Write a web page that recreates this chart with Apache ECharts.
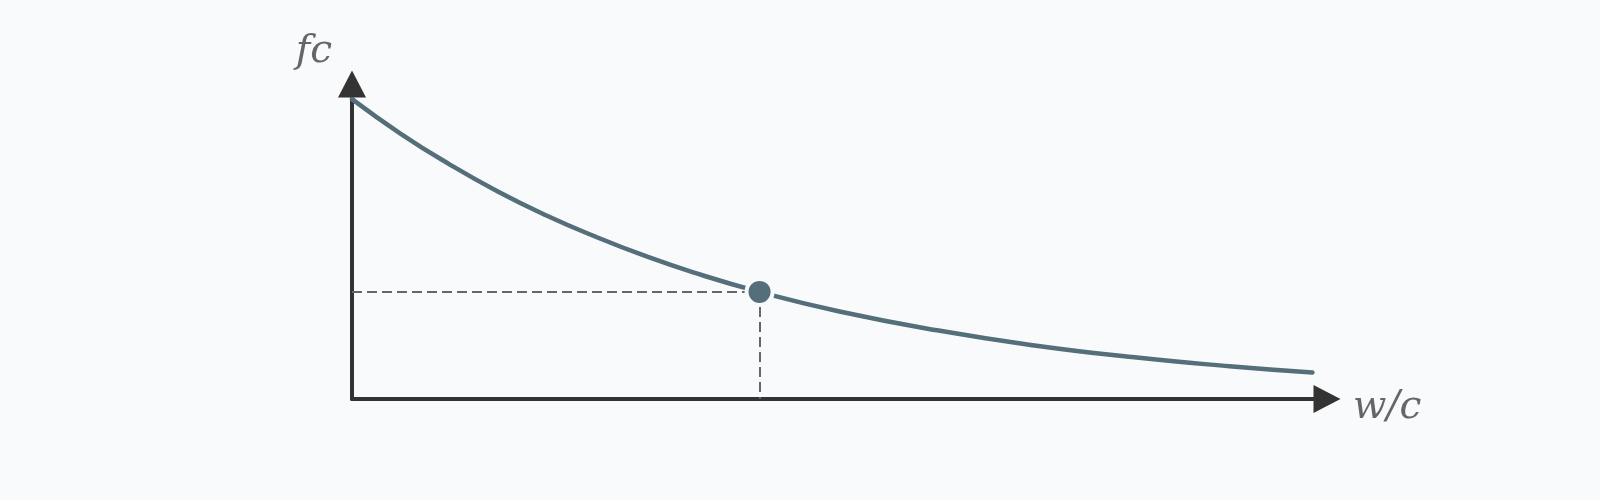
<!DOCTYPE html>
<html>
<head>
<meta charset="utf-8">
<script src="https://cdn.jsdelivr.net/npm/echarts@6/dist/echarts.min.js"></script>
<style>
html,body{margin:0;padding:0;background:#f8fafc;}
#chart{width:1600px;height:500px;}
</style>
</head>
<body>
<div id="chart"></div>
<script>
// water/cement ratio (relative units) and strength (relative units)
const wcValues = [0, 5, 10, 15, 20, 25, 30, 35, 41.8, 50, 60, 70, 80, 90, 98.5];
const fcValues = [95.2, 84.2, 74.5, 65.8, 58.2, 51.5, 45.5, 40.2, 34.0, 27.8, 21.8, 17.0, 13.3, 10.4, 8.4];
const markedPoint = [41.8, 34.0];
const xName = 'w/c';
const yName = 'fc';

const bg = '#f8fafc';
const curveData = wcValues.map((x, i) => [x, fcValues[i]]);
const nameFont = { fontFamily: 'DejaVu Serif', fontStyle: 'italic', fontSize: 39, color: '#666' };

const chart = echarts.init(document.getElementById('chart'));
chart.setOption({
  animation: false,
  backgroundColor: bg,
  grid: { left: 352, right: 273, top: 84, bottom: 101 },
  xAxis: {
    type: 'value', min: 0, max: 100,
    name: xName, nameLocation: 'end', nameGap: 26,
    nameTextStyle: Object.assign({ align: 'left', verticalAlign: 'top', lineHeight: 18 }, nameFont),
    axisLine: { show: true, lineStyle: { color: '#333', width: 4 }, symbol: ['none', 'triangle'], symbolSize: [28, 27] },
    axisTick: { show: false }, axisLabel: { show: false }, splitLine: { show: false }
  },
  yAxis: {
    type: 'value', min: 0, max: 100,
    name: yName, nameLocation: 'end', nameGap: 32,
    nameTextStyle: Object.assign({ align: 'right', verticalAlign: 'middle', padding: [0, 20, 0, 0] }, nameFont),
    axisLine: { show: true, lineStyle: { color: '#333', width: 4 }, symbol: ['none', 'triangle'], symbolSize: [28, 27] },
    axisTick: { show: false }, axisLabel: { show: false }, splitLine: { show: false }
  },
  series: [
    {
      type: 'line', data: curveData, smooth: true, showSymbol: false, silent: true,
      lineStyle: { color: '#546E7A', width: 4.5, cap: 'round' }, z: 2
    },
    {
      type: 'scatter', data: [markedPoint], symbolSize: 26, silent: true, z: 5,
      itemStyle: { color: '#546E7A', borderColor: bg, borderWidth: 4, opacity: 1 },
      markLine: {
        silent: true, symbol: ['none', 'none'], label: { show: false },
        lineStyle: { color: '#666', width: 2, type: [10, 5] },
        z: 1,
        data: [
          [{ coord: [0, markedPoint[1]] }, { coord: [markedPoint[0], markedPoint[1]] }],
          [{ coord: [markedPoint[0], markedPoint[1]] }, { coord: [markedPoint[0], 0] }]
        ]
      }
    }
  ]
});
</script>
</body>
</html>
